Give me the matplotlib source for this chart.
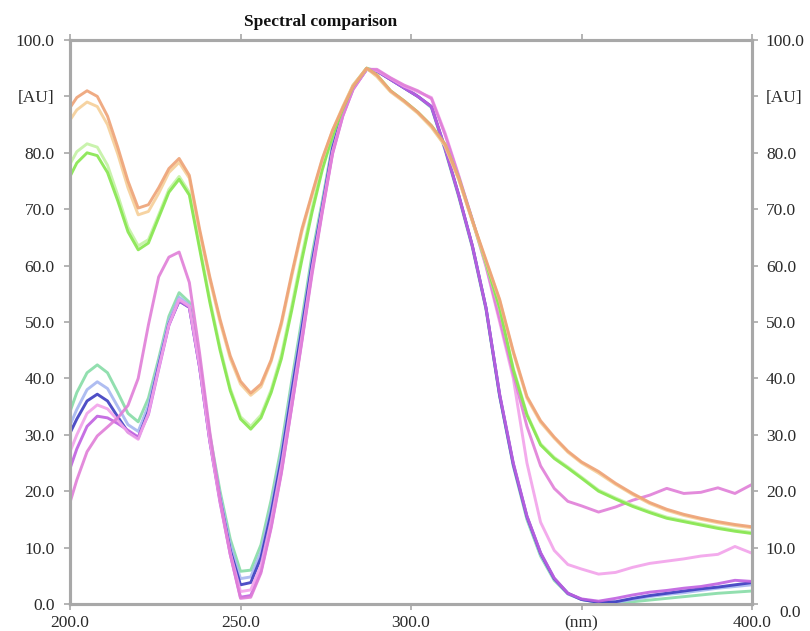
import matplotlib
matplotlib.use("Agg")
import matplotlib.pyplot as plt
from matplotlib.transforms import ScaledTranslation

# Spectral comparison: UV absorbance overlays, 200-400 nm.

wavelength_nm = [200, 202, 205, 208, 211, 214, 217, 220, 223, 226, 229, 232, 235, 238,
                 241, 244, 247, 250, 253, 256, 259, 262, 265, 268, 271, 274, 277, 280,
                 283, 287, 290, 294, 298, 302, 306, 310, 314, 318, 322, 326, 330, 334,
                 338, 342, 346, 350, 355, 360, 365, 370, 375, 380, 385, 390, 395, 400]

orange = [88.0, 89.8, 91.0, 90.0, 86.5, 81.0, 75.0, 70.2, 70.8, 73.8, 77.2, 79.0, 76.0, 66.5,
          58.0, 50.5, 44.0, 39.5, 37.4, 39.0, 43.3, 50.0, 58.5, 66.5, 72.8, 79.0, 84.0, 88.0,
          91.8, 95.0, 93.8, 91.0, 89.2, 87.2, 84.8, 81.5, 75.5, 68.0, 61.0, 54.0, 44.8, 36.8,
          32.5, 29.6, 27.1, 25.2, 23.5, 21.4, 19.6, 18.0, 16.8, 15.9, 15.2, 14.6, 14.1, 13.7]

light_orange = [85.8, 87.6, 89.0, 88.2, 85.0, 79.8, 73.8, 69.0, 69.6, 72.8, 76.5, 78.3, 75.5, 66.0,
                57.5, 50.0, 43.5, 39.0, 37.0, 38.5, 43.0, 49.5, 58.0, 66.0, 72.5, 78.8, 84.0, 88.2,
                92.0, 95.0, 93.5, 90.8, 89.0, 87.0, 84.5, 81.2, 75.2, 67.8, 60.8, 53.8, 44.5, 36.5,
                32.2, 29.4, 26.9, 25.0, 23.2, 21.2, 19.4, 17.8, 16.6, 15.7, 15.0, 14.4, 13.9, 13.5]

green = [75.8, 78.2, 80.0, 79.5, 76.5, 71.5, 66.0, 62.8, 64.0, 68.5, 73.0, 75.3, 72.5, 63.0,
         53.5, 45.0, 37.8, 32.8, 31.0, 33.0, 37.5, 43.5, 52.0, 61.0, 69.5, 77.0, 83.0, 87.8,
         91.8, 95.0, 93.8, 91.0, 89.2, 87.2, 84.8, 81.5, 75.5, 68.0, 60.5, 52.5, 41.5, 33.5,
         28.2, 25.8, 24.1, 22.3, 20.0, 18.6, 17.3, 16.2, 15.2, 14.6, 14.0, 13.4, 12.9, 12.5]

light_green = [78.0, 80.2, 81.6, 81.0, 77.8, 72.5, 66.8, 63.5, 64.6, 69.0, 73.5, 75.8, 73.0, 63.5,
               54.0, 45.5, 38.2, 33.2, 31.5, 33.5, 38.0, 44.2, 52.8, 61.8, 70.2, 77.6, 83.4, 88.0,
               92.0, 95.0, 93.6, 90.9, 89.1, 87.1, 84.6, 81.3, 75.3, 67.9, 60.3, 52.3, 41.8, 33.7,
               28.4, 26.0, 24.3, 22.5, 20.2, 18.8, 17.5, 16.4, 15.4, 14.8, 14.2, 13.6, 13.1, 12.7]

teal = [34.1, 37.5, 41.0, 42.4, 41.0, 37.5, 33.8, 32.3, 36.5, 43.5, 51.0, 55.2, 53.5, 43.0,
        30.0, 20.0, 11.5, 5.8, 6.0, 10.5, 18.5, 28.0, 39.5, 50.5, 62.0, 71.5, 81.5, 87.5,
        91.8, 95.0, 94.5, 93.0, 91.5, 90.0, 88.0, 80.5, 72.2, 63.2, 52.2, 36.8, 24.5, 15.0,
        8.5, 4.2, 1.8, 0.8, 0.3, 0.2, 0.4, 0.7, 1.0, 1.3, 1.6, 1.9, 2.1, 2.3]

light_blue = [31.7, 34.5, 38.0, 39.4, 38.2, 35.0, 31.8, 30.6, 35.2, 42.8, 50.2, 54.4, 53.0, 42.5,
              29.5, 19.2, 10.5, 4.5, 4.8, 9.2, 17.2, 26.8, 38.5, 49.5, 61.0, 70.8, 81.0, 87.2,
              91.6, 94.9, 94.5, 93.0, 91.5, 90.0, 88.1, 80.6, 72.4, 63.4, 52.4, 37.0, 24.6, 15.3,
              8.8, 4.4, 1.8, 0.8, 0.3, 0.3, 0.8, 1.3, 1.7, 2.0, 2.4, 2.8, 3.1, 3.4]

blue = [30.3, 32.8, 36.0, 37.2, 36.0, 33.2, 30.5, 29.4, 34.2, 42.2, 49.6, 53.7, 52.6, 42.0,
        29.0, 18.5, 9.5, 3.4, 3.8, 8.2, 16.2, 25.8, 37.5, 48.8, 60.5, 70.5, 80.8, 87.0,
        91.5, 94.8, 94.5, 93.0, 91.5, 90.0, 88.2, 80.8, 72.5, 63.5, 52.5, 37.0, 24.8, 15.5,
        9.0, 4.5, 1.9, 0.8, 0.3, 0.4, 1.0, 1.5, 1.9, 2.3, 2.7, 3.0, 3.4, 3.8]

pink = [27.0, 30.0, 33.8, 35.3, 34.6, 32.6, 30.4, 29.2, 33.8, 41.8, 49.5, 54.0, 52.8, 42.2,
        29.0, 18.2, 9.0, 2.2, 2.5, 6.8, 14.8, 24.5, 36.0, 47.5, 59.5, 70.0, 80.2, 86.8,
        91.4, 94.8, 94.6, 93.2, 91.8, 90.8, 89.8, 83.5, 76.0, 68.0, 59.8, 50.0, 40.0, 25.0,
        14.5, 9.5, 7.0, 6.2, 5.3, 5.6, 6.5, 7.2, 7.6, 8.0, 8.5, 8.8, 10.2, 9.0]

purple = [24.0, 27.5, 31.5, 33.3, 33.0, 32.0, 30.8, 29.6, 33.6, 41.6, 49.4, 53.8, 52.6, 42.0,
          28.8, 18.0, 8.8, 1.2, 1.5, 5.8, 13.8, 23.5, 35.0, 46.8, 59.0, 69.8, 80.0, 86.6,
          91.3, 94.8, 94.5, 93.0, 91.5, 90.0, 88.2, 80.8, 72.5, 63.5, 52.5, 37.2, 25.0, 15.6,
          9.1, 4.6, 1.9, 0.9, 0.5, 1.0, 1.6, 2.1, 2.4, 2.8, 3.1, 3.6, 4.2, 4.0]

magenta = [18.0, 22.0, 27.0, 29.8, 31.4, 33.0, 35.2, 40.0, 49.5, 58.0, 61.5, 62.4, 57.0, 44.5,
           30.5, 18.5, 8.8, 1.0, 1.2, 5.5, 13.5, 23.2, 34.8, 46.5, 58.5, 69.5, 79.8, 86.5,
           91.2, 94.8, 94.8, 93.3, 92.0, 91.0, 89.6, 83.2, 75.8, 68.2, 60.0, 50.5, 40.8, 31.5,
           24.5, 20.5, 18.2, 17.4, 16.3, 17.2, 18.4, 19.3, 20.5, 19.6, 19.8, 20.6, 19.6, 21.2]

y_ticks = [0, 10, 20, 30, 40, 50, 60, 70, 80, 90, 100]
y_tick_labels = ["0.0", "10.0", "20.0", "30.0", "40.0", "50.0", "60.0", "70.0", "80.0", "[AU]", "100.0"]
x_ticks = [200, 250, 300, 350, 400]
x_tick_labels = ["200.0", "250.0", "300.0", "(nm)", "400.0"]

series = [
    (teal, "#86dca6"),
    (light_blue, "#a6b6f0"),
    (blue, "#3c3cc0"),
    (purple, "#c060e0"),
    (pink, "#f2a2ea"),
    (magenta, "#e07ed8"),
    (light_green, "#c4f2a4"),
    (green, "#86e64e"),
    (light_orange, "#f6cf98"),
    (orange, "#eea276"),
]

plt.rcParams["font.family"] = ["Liberation Serif", "DejaVu Serif"]
axis_grey = "#a8a8a8"

fig = plt.figure(figsize=(8.1, 6.31), dpi=100)
ax = fig.add_axes([70 / 810, 27 / 631, 682 / 810, 564 / 631])

for values, color in series:
    ax.plot(wavelength_nm, values, color=color, linewidth=2.1, alpha=0.9,
            solid_joinstyle="round", solid_capstyle="round", zorder=3)

ax.set_xlim(200, 400)
ax.set_ylim(0, 100)
ax.set_xticks(x_ticks)
ax.set_xticklabels(x_tick_labels)
ax.set_yticks(y_ticks)
ax.set_yticklabels(y_tick_labels)

# right-hand copy of the absorbance scale
ax_r = ax.twinx()
ax_r.set_ylim(0, 100)
ax_r.set_yticks(y_ticks)
ax_r.set_yticklabels(y_tick_labels)

for a in (ax, ax_r):
    for side in ["left", "right", "top", "bottom"]:
        a.spines[side].set_color(axis_grey)
        a.spines[side].set_linewidth(2.2)

ax.tick_params(axis="both", direction="out", length=4, width=1.2, color=axis_grey,
               labelsize=12.5, labelcolor="#2a2a2a", top=True, right=False)
ax.tick_params(axis="y", pad=7)
ax.tick_params(axis="x", pad=4)
ax_r.tick_params(axis="y", direction="out", length=4, width=1.2, color=axis_grey,
                 labelsize=12.5, labelcolor="#2a2a2a", pad=6)

# the right-hand "0.0" sits low and to the right of "400.0" in the original
zero_label = ax_r.yaxis.get_major_ticks()[0].label2
zero_label.set_transform(zero_label.get_transform()
                         + ScaledTranslation(13 / 100, -7 / 100, fig.dpi_scale_trans))

fig.text(321 / 810, 1 - 22 / 631, "Spectral comparison", ha="center", va="center",
         fontsize=12.5, fontweight="bold", color="#111111")

fig.savefig("out.png", dpi=100)
plt.close(fig)
